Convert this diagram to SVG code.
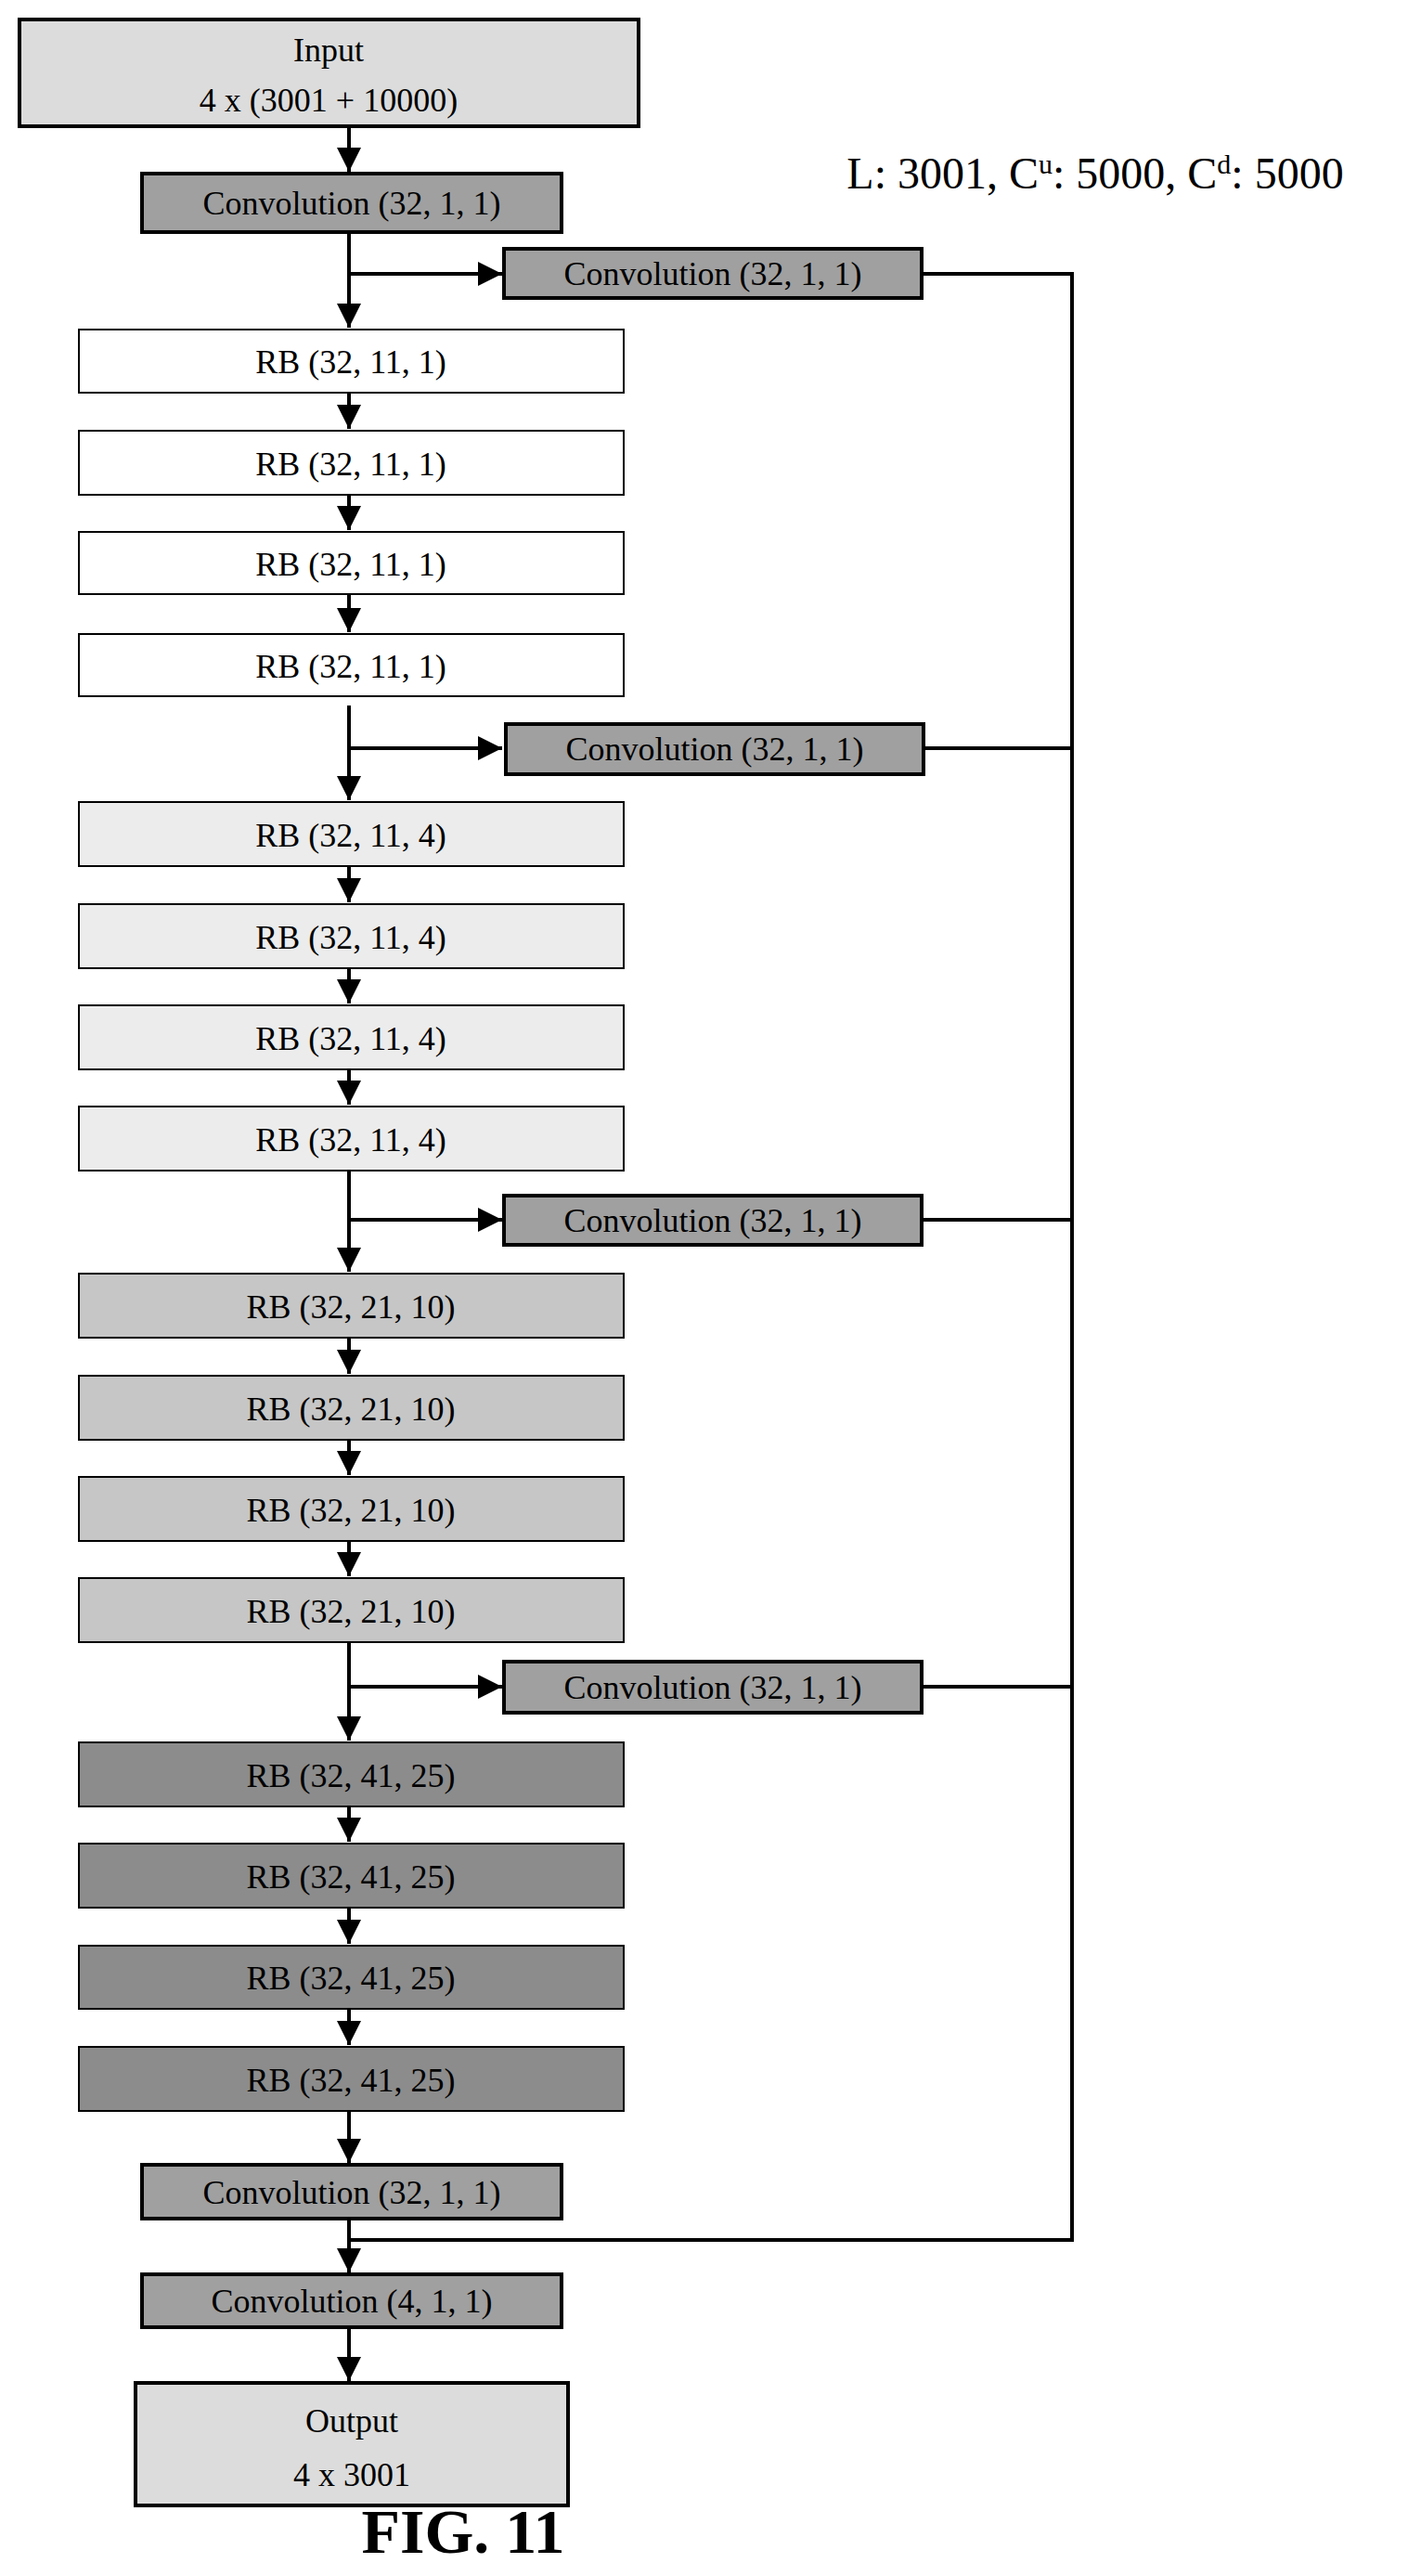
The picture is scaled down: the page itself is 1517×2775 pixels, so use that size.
<svg xmlns="http://www.w3.org/2000/svg" width="1517" height="2775" viewBox="0 0 1517 2775">
<style>
text{font-family:"Liberation Serif","Times New Roman",serif;font-size:36px;text-anchor:middle;fill:#000}
rect{stroke:#000}
.io{fill:#dcdcdc;stroke-width:4}
.cv{fill:#a0a0a0;stroke-width:4}
.rb1{fill:#fff;stroke-width:2}
.rb2{fill:#ececec;stroke-width:2}
.rb3{fill:#c6c6c6;stroke-width:2}
.rb4{fill:#8c8c8c;stroke-width:2}
.ln{stroke:#000;stroke-width:4;fill:none}
</style>
<defs><marker id="a" markerWidth="10" markerHeight="10" refX="9" refY="5" orient="auto" markerUnits="userSpaceOnUse" viewBox="0 0 10 10"><path d="M0,0 L10,5 L0,10 z" fill="#000"/></marker>
<marker id="b" viewBox="0 0 10 10" refX="10" refY="5" markerWidth="26" markerHeight="26" orient="auto" markerUnits="userSpaceOnUse"><path d="M0,0 L10,5 L0,10 z" fill="#000"/></marker></defs>
<g id="connectors">
<path class="ln" d="M376 136V185" marker-end="url(#b)"/>
<path class="ln" d="M376 250V353" marker-end="url(#b)"/>
<path class="ln" d="M376 295H541" marker-end="url(#b)"/>
<path class="ln" d="M376 423V462" marker-end="url(#b)"/>
<path class="ln" d="M376 533V571" marker-end="url(#b)"/>
<path class="ln" d="M376 640V681" marker-end="url(#b)"/>
<path class="ln" d="M376 760V862" marker-end="url(#b)"/>
<path class="ln" d="M376 806H541" marker-end="url(#b)"/>
<path class="ln" d="M376 933V972" marker-end="url(#b)"/>
<path class="ln" d="M376 1043V1081" marker-end="url(#b)"/>
<path class="ln" d="M376 1152V1190" marker-end="url(#b)"/>
<path class="ln" d="M376 1261V1370" marker-end="url(#b)"/>
<path class="ln" d="M376 1314H541" marker-end="url(#b)"/>
<path class="ln" d="M376 1441V1480" marker-end="url(#b)"/>
<path class="ln" d="M376 1551V1589" marker-end="url(#b)"/>
<path class="ln" d="M376 1660V1698" marker-end="url(#b)"/>
<path class="ln" d="M376 1769V1875" marker-end="url(#b)"/>
<path class="ln" d="M376 1817H541" marker-end="url(#b)"/>
<path class="ln" d="M376 1946V1984" marker-end="url(#b)"/>
<path class="ln" d="M376 2055V2094" marker-end="url(#b)"/>
<path class="ln" d="M376 2164V2203" marker-end="url(#b)"/>
<path class="ln" d="M376 2274V2330" marker-end="url(#b)"/>
<path class="ln" d="M376 2390V2448" marker-end="url(#b)"/>
<path class="ln" d="M376 2507V2565" marker-end="url(#b)"/>
<path class="ln" d="M993 295H1155V2413H376"/>
<path class="ln" d="M993 806H1155M993 1314H1155M993 1817H1155"/>
</g>
<g id="input"><rect class="io" x="21" y="21" width="667" height="115"/><text x="354" y="66">Input</text><text x="354" y="120">4 x (3001 + 10000)</text></g>
<g id="legend"><text x="1180" y="203" style="font-size:48px">L: 3001, C<tspan dy="-16" font-size="30">u</tspan><tspan dy="16">: 5000, C</tspan><tspan dy="-16" font-size="30">d</tspan><tspan dy="16">: 5000</tspan></text></g>
<g id="conv1"><rect class="cv" x="153" y="187" width="452" height="63"/><text x="379" y="231">Convolution (32, 1, 1)</text></g>
<g id="sconv1"><rect class="cv" x="543" y="268" width="450" height="53"/><text x="768" y="307">Convolution (32, 1, 1)</text></g>
<g id="rb1"><rect class="rb1" x="85" y="355" width="587" height="68"/><text x="378" y="402">RB (32, 11, 1)</text></g>
<g id="rb2"><rect class="rb1" x="85" y="464" width="587" height="69"/><text x="378" y="512">RB (32, 11, 1)</text></g>
<g id="rb3"><rect class="rb1" x="85" y="573" width="587" height="67"/><text x="378" y="620">RB (32, 11, 1)</text></g>
<g id="rb4"><rect class="rb1" x="85" y="683" width="587" height="67"/><text x="378" y="730">RB (32, 11, 1)</text></g>
<g id="sconv2"><rect class="cv" x="545" y="780" width="450" height="54"/><text x="770" y="819">Convolution (32, 1, 1)</text></g>
<g id="rb5"><rect class="rb2" x="85" y="864" width="587" height="69"/><text x="378" y="912">RB (32, 11, 4)</text></g>
<g id="rb6"><rect class="rb2" x="85" y="974" width="587" height="69"/><text x="378" y="1022">RB (32, 11, 4)</text></g>
<g id="rb7"><rect class="rb2" x="85" y="1083" width="587" height="69"/><text x="378" y="1131">RB (32, 11, 4)</text></g>
<g id="rb8"><rect class="rb2" x="85" y="1192" width="587" height="69"/><text x="378" y="1240">RB (32, 11, 4)</text></g>
<g id="sconv3"><rect class="cv" x="543" y="1288" width="450" height="53"/><text x="768" y="1327">Convolution (32, 1, 1)</text></g>
<g id="rb9"><rect class="rb3" x="85" y="1372" width="587" height="69"/><text x="378" y="1420">RB (32, 21, 10)</text></g>
<g id="rb10"><rect class="rb3" x="85" y="1482" width="587" height="69"/><text x="378" y="1530">RB (32, 21, 10)</text></g>
<g id="rb11"><rect class="rb3" x="85" y="1591" width="587" height="69"/><text x="378" y="1639">RB (32, 21, 10)</text></g>
<g id="rb12"><rect class="rb3" x="85" y="1700" width="587" height="69"/><text x="378" y="1748">RB (32, 21, 10)</text></g>
<g id="sconv4"><rect class="cv" x="543" y="1790" width="450" height="55"/><text x="768" y="1830">Convolution (32, 1, 1)</text></g>
<g id="rb13"><rect class="rb4" x="85" y="1877" width="587" height="69"/><text x="378" y="1925">RB (32, 41, 25)</text></g>
<g id="rb14"><rect class="rb4" x="85" y="1986" width="587" height="69"/><text x="378" y="2034">RB (32, 41, 25)</text></g>
<g id="rb15"><rect class="rb4" x="85" y="2096" width="587" height="68"/><text x="378" y="2143">RB (32, 41, 25)</text></g>
<g id="rb16"><rect class="rb4" x="85" y="2205" width="587" height="69"/><text x="378" y="2253">RB (32, 41, 25)</text></g>
<g id="conv5"><rect class="cv" x="153" y="2332" width="452" height="58"/><text x="379" y="2374">Convolution (32, 1, 1)</text></g>
<g id="conv6"><rect class="cv" x="153" y="2450" width="452" height="57"/><text x="379" y="2491">Convolution (4, 1, 1)</text></g>
<g id="output"><rect class="io" x="146" y="2567" width="466" height="132"/><text x="379" y="2620">Output</text><text x="379" y="2678">4 x 3001</text></g>
<text x="499" y="2750" style="font-size:68px;font-weight:bold">FIG. 11</text>
</svg>
